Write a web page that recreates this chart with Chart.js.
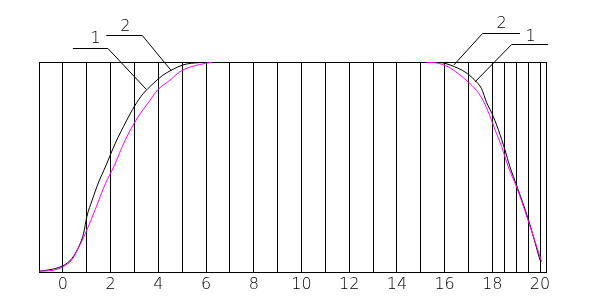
<!DOCTYPE html>
<html>
<head>
<meta charset="utf-8">
<script src="https://cdn.jsdelivr.net/npm/chart.js@4.4.1/dist/chart.umd.min.js"></script>
<style>
  html, body { margin: 0; padding: 0; background: #ffffff; }
  #wrap { width: 594px; height: 299px; position: relative; }
</style>
</head>
<body>
<div id="wrap"><canvas id="c"></canvas></div>
<script>
// ---- data ----
const curve1X = [-1.0, -0.74, 0.03, 0.38, 0.73, 0.87, 1.01, 1.22, 1.50, 1.78, 2.20, 2.66, 3.01, 3.36, 3.78, 4.19, 4.61, 5.03, 5.39, 5.73, 6.1, 15.6, 16.01, 16.43, 16.85, 17.27, 17.55, 17.76, 17.97, 18.25, 18.53, 18.74, 19.02, 19.51, 20.0];
const curve1Y = [0.008, 0.011, 0.035, 0.068, 0.14, 0.188, 0.269, 0.342, 0.43, 0.502, 0.615, 0.72, 0.792, 0.849, 0.897, 0.937, 0.965, 0.986, 0.994, 0.997, 1.0, 1.0, 0.994, 0.977, 0.953, 0.913, 0.873, 0.808, 0.76, 0.68, 0.583, 0.502, 0.414, 0.253, 0.059];

const curve2X = [-1.0, -0.46, 0.03, 0.38, 0.73, 1.01, 1.36, 1.78, 2.13, 2.62, 3.10, 3.64, 3.98, 4.48, 4.90, 5.31, 5.73, 6.25, 10.0, 15.24, 15.73, 16.15, 16.57, 16.99, 17.34, 17.62, 17.90, 18.11, 18.39, 18.67, 19.02, 19.51, 20.07];
const curve2Y = [0.008, 0.011, 0.030, 0.062, 0.135, 0.204, 0.301, 0.422, 0.502, 0.631, 0.730, 0.816, 0.868, 0.913, 0.953, 0.975, 0.988, 0.999, null, 0.999, 0.994, 0.977, 0.945, 0.905, 0.865, 0.816, 0.744, 0.68, 0.599, 0.502, 0.406, 0.245, 0.052];

const gridX = [-1, 0, 1, 2, 3, 4, 5, 6, 7, 8, 9, 10, 11, 12, 13, 14, 15, 16, 17, 18, 18.5, 19, 19.5, 20, 20.25];
const tickLabels = [0, 2, 4, 6, 8, 10, 12, 14, 16, 18, 20];

// leader-line callouts (data units)
const calloutText = ['1', '2', '2', '1'];
const calloutTextX = [1.37, 2.62, 18.39, 19.60];
const calloutTextY = [1.111, 1.167, 1.181, 1.121];
const calloutBarX1 = [0.42, 1.82, 17.59, 18.81];
const calloutBarX2 = [1.89, 3.33, 19.16, 20.34];
const calloutBarY = [1.066, 1.127, 1.139, 1.087];
const calloutTipX = [3.50, 4.55, 16.39, 17.27];
const calloutTipY = [0.870, 0.958, 0.986, 0.905];

const FONT = '"DejaVu Sans", "Liberation Sans", sans-serif';

const toPts = (xs, ys) => xs.map((x, i) => ({ x: x, y: ys[i] }));

const calloutPlugin = {
  id: 'callouts',
  afterDraw(chart) {
    const ctx = chart.ctx;
    const xs = chart.scales.x, ys = chart.scales.y;
    ctx.save();
    ctx.strokeStyle = '#000';
    ctx.lineWidth = 1;
    ctx.fillStyle = '#000';
    ctx.font = '200 16px ' + FONT;
    ctx.textAlign = 'center';
    ctx.textBaseline = 'middle';
    for (let i = 0; i < calloutText.length; i++) {
      const bx1 = xs.getPixelForValue(calloutBarX1[i]);
      const bx2 = xs.getPixelForValue(calloutBarX2[i]);
      const by = Math.round(ys.getPixelForValue(calloutBarY[i])) + 0.5;
      const tx = xs.getPixelForValue(calloutTipX[i]);
      const ty = ys.getPixelForValue(calloutTipY[i]);
      const jx = Math.abs(bx1 - tx) < Math.abs(bx2 - tx) ? bx1 : bx2;
      ctx.beginPath();
      ctx.moveTo(bx1, by);
      ctx.lineTo(bx2, by);
      ctx.moveTo(jx, by);
      ctx.lineTo(tx, ty);
      ctx.stroke();
      ctx.fillText(calloutText[i], xs.getPixelForValue(calloutTextX[i]), ys.getPixelForValue(calloutTextY[i]));
    }
    ctx.restore();
  }
};

new Chart(document.getElementById('c'), {
  type: 'line',
  data: {
    datasets: [
      {
        label: '2',
        data: toPts(curve2X, curve2Y),
        borderColor: '#ff00ff',
        borderWidth: 1,
        pointRadius: 0,
        cubicInterpolationMode: 'monotone',
        spanGaps: false,
        order: 0
      },
      {
        label: '1',
        data: toPts(curve1X, curve1Y),
        borderColor: '#000000',
        borderWidth: 1,
        pointRadius: 0,
        cubicInterpolationMode: 'monotone',
        order: 1
      }
    ]
  },
  options: {
    responsive: true,
    maintainAspectRatio: false,
    animation: false,
    devicePixelRatio: 1,
    layout: { padding: { left: 39, right: 48, top: 62, bottom: 3 } },
    plugins: { legend: { display: false }, tooltip: { enabled: false } },
    scales: {
      x: {
        type: 'linear',
        min: -1,
        max: 20.25,
        afterBuildTicks: (scale) => { scale.ticks = gridX.map(v => ({ value: v })); },
        ticks: {
          autoSkip: false,
          maxRotation: 0,
          padding: 2,
          color: '#000',
          font: { family: FONT, size: 16, weight: '200' },
          callback: (v) => tickLabels.includes(v) ? String(v) : ''
        },
        grid: { color: '#000', lineWidth: 1, drawTicks: false, tickLength: 0 },
        border: { display: false }
      },
      y: {
        type: 'linear',
        min: 0,
        max: 1,
        afterBuildTicks: (scale) => { scale.ticks = [{ value: 0 }, { value: 1 }]; },
        ticks: { display: false },
        grid: { color: '#000', lineWidth: 1, drawTicks: false, tickLength: 0 },
        border: { display: false }
      }
    }
  },
  plugins: [calloutPlugin]
});
</script>
</body>
</html>
